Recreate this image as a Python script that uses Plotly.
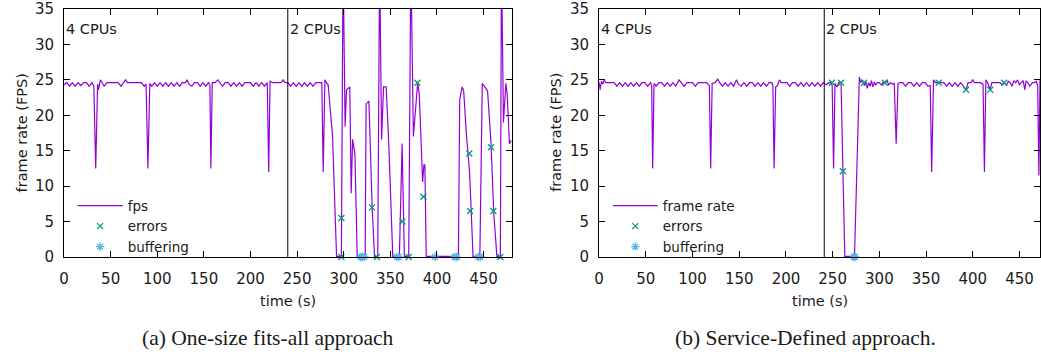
import plotly.graph_objects as go

# ---------------- data ----------------
# (a) One-size fits-all approach: frame rate samples (time s, fps)
fps_a = [
    (0, 24.3), (3, 24.6), (6, 24.1), (9, 24.6), (12, 24.1), (15, 24.6), (18, 24.2), (21, 24.6),
    (24, 24.6), (27, 24.1), (30, 24.6), (32, 24.1), (34, 12.5), (36, 24.4), (37, 23.6), (39, 25.0),
    (41, 24.6), (43, 24.1), (46, 24.6), (49, 24.6), (52, 24.6), (55, 24.6), (58, 24.6), (61, 24.1),
    (64, 24.6), (66, 25.0), (68, 24.6), (71, 24.6), (74, 24.6), (77, 24.6), (80, 24.6), (83, 24.6),
    (86, 24.1), (88, 24.4), (90, 12.5), (92, 24.5), (94, 24.1), (97, 24.6), (100, 24.1), (103, 24.6),
    (106, 24.1), (109, 24.6), (112, 24.1), (115, 24.6), (118, 24.1), (121, 24.6), (124, 24.1),
    (127, 24.6), (130, 24.6), (132, 25.0), (134, 24.4), (137, 24.1), (140, 24.6), (143, 24.6),
    (146, 24.1), (149, 24.6), (152, 24.1), (155, 24.6), (156.5, 24.2), (157.5, 12.5), (159, 24.6),
    (162, 24.6), (165, 25.0), (167, 24.6), (170, 24.1), (173, 24.6), (176, 24.6), (179, 24.1),
    (182, 24.6), (185, 24.1), (188, 24.6), (191, 24.1), (194, 24.6), (197, 24.6), (200, 24.6),
    (203, 24.1), (206, 24.6), (209, 24.1), (212, 24.6), (215, 24.1), (218, 24.6), (219.5, 12.0),
    (221, 24.8), (224, 24.6), (227, 24.6), (230, 24.6), (233, 24.6), (235, 25.0), (237, 24.6),
    (240, 24.6), (243, 24.1), (246, 24.6), (249, 24.1), (252, 24.6), (255, 24.1), (258, 24.6),
    (261, 24.1), (264, 24.6), (267, 24.1), (270, 24.6), (273, 24.6), (276.5, 24.6), (278, 12.0),
    (279.8, 25.0), (281.5, 24.6), (283.3, 24.3), (288, 17.1), (292.3, 0.1), (297.5, 0.1),
    (299.3, 42.0), (301.5, 18.4), (303, 23.6), (306.5, 24.0), (308, 9.0), (309.5, 16.6),
    (312, 14.6), (314.5, 0.1), (323, 0.1), (324, 21.6), (327, 22.0), (330.5, 7.0), (333, 0.1),
    (336.5, 0.1), (338.5, 42.0), (340.6, 16.6), (342.7, 24.0), (345.5, 24.0), (348.4, 15.7),
    (352.6, 0.1), (359.7, 0.1), (362.6, 16.0), (365, 0.1), (369.7, 0.1), (372, 42.0),
    (374.7, 17.0), (379.3, 24.6), (381, 23.0), (384.6, 10.6), (386, 13.0), (387, 13.0),
    (388.5, 0.1), (423, 0.1), (424.4, 22.2), (427, 24.0), (428.6, 23.5), (431.5, 17.4),
    (435, 12.0), (438.7, 0.1), (446, 0.1), (448.6, 24.5), (452.9, 23.7), (454.3, 23.4),
    (458, 16.0), (461, 6.0), (464.3, 0.1), (468, 0.1), (469.2, 42.0), (471.3, 19.0),
    (473.9, 24.5), (475.3, 23.0), (477.7, 16.0), (480, 16.5),
]
errors_a = [
    (297.5, 0), (297.5, 5.5), (330.3, 7.0), (335.6, 0), (363, 5.0), (369.7, 0), (379, 24.6),
    (385.5, 8.5), (421, 0), (434.7, 14.6), (435.5, 6.5), (458, 15.5), (460.5, 6.5), (468, 0),
]
buffering_a = [
    (318, 0), (320, 0), (322, 0), (357, 0), (359, 0), (397.8, 0), (419, 0), (421, 0),
    (444.5, 0), (446.5, 0),
]

# (b) Service-Defined approach
fps_b = [
    (0, 24.7), (1, 23.6), (2.5, 24.8), (4, 24.4), (5.5, 25.0), (7, 24.6), (10, 24.6), (13, 24.6),
    (16, 24.6), (19, 24.1), (22, 24.6), (25, 24.1), (28, 24.6), (31, 24.1), (34, 24.6), (37, 24.1),
    (40, 24.6), (43, 24.1), (46, 24.6), (49, 24.6), (52, 24.1), (55, 24.6), (56.3, 24.2),
    (57.3, 12.5), (58.8, 24.5), (61, 24.1), (64, 24.6), (67, 24.6), (70, 24.1), (73, 24.6),
    (76, 24.1), (79, 24.6), (82, 24.1), (85.5, 25.0), (88, 24.6), (91, 24.1), (94, 24.6),
    (97, 24.6), (100, 24.6), (103, 24.1), (106, 24.6), (109, 24.6), (112, 24.6), (115, 24.6),
    (118, 24.2), (119.4, 12.5), (121, 24.5), (124, 24.6), (127, 25.1), (129, 24.6), (132, 24.1),
    (135, 24.6), (138, 24.1), (141, 24.6), (144, 24.1), (147, 25.0), (149, 24.4), (152, 24.1),
    (155, 24.6), (158, 24.1), (161, 24.6), (164, 24.6), (167, 24.1), (170, 24.6), (173, 24.1),
    (176, 24.6), (179, 24.1), (182, 24.6), (185, 24.6), (186, 24.2), (187.3, 12.5), (189, 24.0),
    (191, 24.2), (193, 25.0), (195, 24.6), (198, 24.6), (201, 24.6), (204, 24.1), (207, 24.6),
    (210, 24.6), (213, 24.1), (216, 24.6), (219, 24.1), (222, 24.6), (225, 24.1), (228, 24.6),
    (231, 24.1), (234, 24.6), (237, 24.1), (240, 24.6), (243, 24.3), (246, 24.6), (248, 24.6),
    (249.5, 24.2), (251, 12.5), (252.5, 24.5), (254.5, 24.0), (256.5, 24.6), (259, 24.6),
    (261, 12.1), (263, 0.1), (266, 0.1), (270, 0.1), (273.4, 0.1), (278.6, 25.4), (280, 24.6),
    (282, 25.0), (284, 24.2), (285.5, 24.8), (287, 23.8), (288.5, 24.6), (290, 24.1),
    (291.5, 24.9), (293, 24.0), (294.5, 24.7), (296, 24.3), (298, 24.6), (300, 24.6),
    (302, 24.3), (304, 24.6), (306, 24.6), (308, 25.0), (310, 24.3), (312, 24.6), (314, 24.4),
    (316, 24.5), (318, 16.0), (320, 24.5), (322, 24.6), (325, 24.6), (328, 24.1), (331, 24.6),
    (334, 24.6), (337, 24.1), (340, 24.6), (343, 24.1), (346, 24.6), (349, 24.6), (352, 24.1),
    (354.5, 24.2), (356, 12.0), (358, 25.0), (360, 24.6), (363, 24.6), (366, 24.6), (369, 24.6),
    (372, 24.1), (375, 24.6), (378, 24.1), (381, 24.6), (384, 24.1), (387, 24.6), (390, 24.1),
    (392.8, 23.6), (395, 24.6), (398, 24.6), (400, 25.0), (402, 24.6), (405, 24.6), (408, 24.6),
    (411, 24.4), (412.5, 12.0), (414, 25.0), (416, 24.6), (418.5, 23.6), (420.5, 24.6),
    (423, 24.6), (426, 24.6), (429, 24.6), (432, 24.3), (434, 24.6), (436, 24.2), (438, 24.8),
    (440, 24.6), (442, 24.1), (444, 24.9), (446, 24.6), (448, 25.0), (450, 24.3), (452, 24.6),
    (454, 24.9), (455.7, 23.6), (457, 24.8), (459, 24.6), (461, 24.1), (464, 24.6), (466, 24.6),
    (468, 24.8), (469.5, 24.2), (470.8, 11.5), (472, 25.0),
]
errors_b = [
    (249.3, 24.6), (259, 24.6), (261, 12.1), (283.4, 24.6), (306, 24.6), (363.6, 24.6),
    (392.8, 23.6), (418.7, 23.6), (433.5, 24.6),
]
buffering_b = [(272.5, 0), (274, 0)]

phase_switch_a = 240
phase_switch_b = 241
x_max_a = 480
x_max_b = 472
y_ticks = [0, 5, 10, 15, 20, 25, 30, 35]
x_ticks = [0, 50, 100, 150, 200, 250, 300, 350, 400, 450]
phase_labels = ["4 CPUs", "2 CPUs"]
legend_names_a = ["fps", "errors", "buffering"]
legend_names_b = ["frame rate", "errors", "buffering"]
captions = ["(a) One-size fits-all approach", "(b) Service-Defined approach."]

# ---------------- styling ----------------
W, H = 1041, 356
C_LINE = "#9400d3"
C_ERR = "#009e73"
C_BUF = "#56b4e9"
SANS = "DejaVu Sans"
SERIF = "Liberation Serif"
TXT = "#1a1a1a"

M_T, M_B = 8, 99
PLOT_H = H - M_T - M_B
dom_a = [59.3 / W, 509 / W]
dom_b = [597 / W, 1040 / W]


def unzip(pairs):
    return [p[0] for p in pairs], [p[1] for p in pairs]


fig = go.Figure()

panels = [
    ("x", "y", "legend", fps_a, errors_a, buffering_a, legend_names_a),
    ("x2", "y2", "legend2", fps_b, errors_b, buffering_b, legend_names_b),
]
for xa, ya, lg, fps, err, buf, names in panels:
    t, v = unzip(fps)
    fig.add_trace(go.Scatter(x=t, y=v, mode="lines", name=names[0], xaxis=xa, yaxis=ya,
                             legend=lg, line=dict(color=C_LINE, width=1.2)))
    t, v = unzip(err)
    fig.add_trace(go.Scatter(x=t, y=v, mode="markers", name=names[1], xaxis=xa, yaxis=ya,
                             legend=lg, cliponaxis=False,
                             marker=dict(symbol="x-thin-open", size=6, color=C_ERR,
                                         line=dict(color=C_ERR, width=1.3))))
    t, v = unzip(buf)
    fig.add_trace(go.Scatter(x=t, y=v, mode="markers", name=names[2], xaxis=xa, yaxis=ya,
                             legend=lg, cliponaxis=False,
                             marker=dict(symbol="asterisk-open", size=7, color=C_BUF,
                                         line=dict(color=C_BUF, width=1.3))))

axis_common = dict(
    showgrid=False, zeroline=False, showline=True, linecolor="black", linewidth=1,
    mirror="ticks", ticks="inside", ticklen=6, tickcolor="black", tickwidth=1,
    tickfont=dict(family=SANS, size=15, color=TXT), ticklabeloverflow="allow",
)

legend_common = dict(xanchor="left", yanchor="top", bgcolor="rgba(0,0,0,0)",
                     font=dict(family=SANS, size=13.5, color=TXT),
                     itemwidth=45, tracegroupgap=0)

fig.update_layout(
    width=W, height=H,
    margin=dict(l=0, r=0, t=M_T, b=M_B),
    paper_bgcolor="white", plot_bgcolor="white",
    xaxis=dict(domain=dom_a, range=[0, x_max_a], tickvals=x_ticks, anchor="y",
               ticklabelstandoff=8, **axis_common),
    yaxis=dict(domain=[0, 1], range=[0, 35], tickvals=y_ticks, anchor="x",
               ticklabelstandoff=6, **axis_common),
    xaxis2=dict(domain=dom_b, range=[0, x_max_b], tickvals=x_ticks, anchor="y2",
                ticklabelstandoff=8, **axis_common),
    yaxis2=dict(domain=[0, 1], range=[0, 35], tickvals=y_ticks, anchor="x2",
                ticklabelstandoff=6, **axis_common),
    legend=dict(x=68 / W, y=(257 - 190) / PLOT_H, **legend_common),
    legend2=dict(x=(68 + 537.7) / W, y=(257 - 190) / PLOT_H, **legend_common),
    showlegend=True,
)

# phase switch lines
for xa, ya, ps in [("x", "y", phase_switch_a), ("x2", "y2", phase_switch_b)]:
    fig.add_shape(type="line", xref=xa, yref=f"{ya} domain", x0=ps, x1=ps, y0=0, y1=1,
                  line=dict(color="black", width=1))

# phase labels
for xa, ya in [("x", "y"), ("x2", "y2")]:
    fig.add_annotation(text=phase_labels[0], xref=xa, yref=ya, x=3, y=32.2, xshift=-3,
                       xanchor="left", yanchor="middle", showarrow=False,
                       font=dict(family=SANS, size=14.5, color=TXT))
    fig.add_annotation(text=phase_labels[1], xref=xa, yref=ya, x=243.5, y=32.2, xshift=-3,
                       xanchor="left", yanchor="middle", showarrow=False,
                       font=dict(family=SANS, size=14.5, color=TXT))

# axis titles and captions
centers = [(dom_a[0] + dom_a[1]) / 2, (dom_b[0] + dom_b[1]) / 2]
ylab_x = [17 / W, 553 / W]
for i in range(2):
    fig.add_annotation(text="time (s)", xref="paper", yref="paper", x=centers[i],
                       y=(257 - 301) / PLOT_H, xanchor="center", yanchor="middle",
                       showarrow=False, font=dict(family=SANS, size=14.5, color=TXT))
    fig.add_annotation(text="frame rate (FPS)", xref="paper", yref="paper", x=ylab_x[i],
                       y=(257 - 132) / PLOT_H, xanchor="center", yanchor="middle",
                       textangle=-90, showarrow=False,
                       font=dict(family=SANS, size=14.5, color=TXT))
cap_x = [264 / W, 804 / W]
for i in range(2):
    fig.add_annotation(text=captions[i], xref="paper", yref="paper", x=cap_x[i],
                       y=(257 - 338) / PLOT_H, xanchor="center", yanchor="middle",
                       showarrow=False, font=dict(family=SERIF, size=21.5, color=TXT))

fig.write_html("out.html")
